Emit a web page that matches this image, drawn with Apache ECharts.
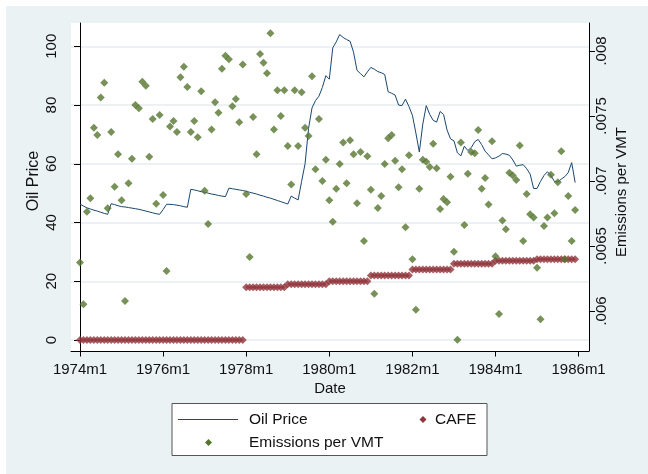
<!DOCTYPE html>
<html>
<head>
<meta charset="utf-8">
<title>Oil Price, CAFE and Emissions per VMT</title>
<script src="https://cdn.jsdelivr.net/npm/echarts@6/dist/echarts.min.js"></script>
<style>
  html, body { margin: 0; padding: 0; background: #fff; }
  #frame { position: absolute; left: 6px; top: 6px; width: 642px; height: 468px; background: #EAF2F3; }
  #chart { position: absolute; left: 0; top: 0; width: 648px; height: 474px; }
</style>
</head>
<body>
<div id="frame"></div>
<div id="chart"></div>
<script>
// Months are counted from 1974m1 (index 0) to 1985m12 (index 143).
const tickMonths = [0, 24, 48, 72, 96, 120, 144];
const tickLabels = ['1974m1', '1976m1', '1978m1', '1980m1', '1982m1', '1984m1', '1986m1'];

const leftTicks = [0, 20, 40, 60, 80, 100];
const rightTicks = [0.006, 0.0065, 0.007, 0.0075, 0.008];
const rightTickLabels = ['.006', '.0065', '.007', '.0075', '.008'];

// Real oil price, monthly
const oilPrice = [
  46.3, 45.6, 45.0, 44.6, 44.2, 43.9, 43.5, 43.1, 42.8, 46.4, 46.1, 45.7,
  45.4, 45.3, 45.1, 44.9, 44.7, 44.5, 44.2, 43.9, 43.6, 43.3, 43.0, 42.8,
  44.4, 46.2, 46.2, 46.1, 45.9, 45.7, 45.4, 45.2, 51.3, 51.1, 50.8, 50.5,
  50.3, 50.0, 49.7, 49.5, 49.2, 49.0, 48.8, 51.7, 51.5, 51.3, 51.1, 50.9,
  50.6, 50.3, 50.0, 49.7, 49.3, 49.0, 48.6, 48.3, 47.9, 47.5, 47.1, 46.7,
  46.3, 49.0, 48.3, 47.7, 54.0, 60.0, 72.0, 79.0, 81.5, 83.0, 86.0, 90.0,
  88.8, 99.5, 101.5, 104.0, 103.0, 102.3, 101.7, 98.0, 91.8, 90.7, 89.6, 91.3,
  92.8, 92.2, 91.4, 91.0, 90.4, 84.5, 84.0, 83.4, 80.0, 79.8, 82.0, 79.5,
  76.5, 70.5, 64.0, 73.5, 79.8, 76.8, 74.8, 74.2, 77.8, 76.8, 71.5, 68.5,
  67.8, 63.7, 62.7, 66.0, 64.5, 65.5, 67.5, 68.3, 66.5, 64.3, 63.0, 61.7,
  62.0, 62.6, 63.5, 63.3, 62.9, 61.3, 59.2, 59.5, 59.7, 58.3, 56.5, 51.6,
  51.6, 54.0, 56.0, 57.3, 56.0, 54.0, 53.8, 54.8, 55.6, 57.0, 60.4, 53.6
];

// CAFE standard (mpg) by calendar year, 1974-1985
const cafeYears = [1974, 1975, 1976, 1977, 1978, 1979, 1980, 1981, 1982, 1983, 1984, 1985];
const cafeStandard = [0, 0, 0, 0, 18, 19, 20, 22, 24, 26, 27, 27.5];

// Emissions per vehicle mile travelled, monthly
const emissionsPerVMT = [
  0.006372, 0.006052, 0.006764, 0.006867, 0.007410, 0.007354, 0.007641, 0.007756, 0.006790, 0.007377, 0.006956, 0.007205,
  0.006851, 0.006077, 0.006982, 0.007171, 0.007585, 0.007559, 0.007764, 0.007733, 0.007187, 0.007477, 0.006825, 0.007508,
  0.006892, 0.006308, 0.007418, 0.007461, 0.007377, 0.007798, 0.007879, 0.007723, 0.007377, 0.007461, 0.007336, 0.007690,
  0.006925, 0.006669, 0.007395, 0.007605, 0.007525, 0.007864, 0.007964, 0.007936, 0.007575, 0.007631, 0.007451, 0.007895,
  0.006900, 0.006415, 0.007492, 0.007205, 0.007977, 0.007910, 0.007828, 0.008136, 0.007395, 0.007698, 0.007500, 0.007698,
  0.007269, 0.006972, 0.007698, 0.007269, 0.007682, 0.007410, 0.007346, 0.007805, 0.007090, 0.007477, 0.007000, 0.007164,
  0.006851, 0.006687, 0.006941, 0.007131, 0.007295, 0.006982, 0.007313, 0.007205, 0.006828, 0.007223, 0.006538, 0.007190,
  0.006933, 0.006133, 0.006792, 0.006885, 0.007131, 0.007328, 0.007354, 0.007156, 0.006951, 0.007090, 0.006644, 0.007198,
  0.006398, 0.006010, 0.006941, 0.007164, 0.007148, 0.007108, 0.007287, 0.007098, 0.006785, 0.006862, 0.006836, 0.007033,
  0.006456, 0.005779, 0.007295, 0.006662, 0.007056, 0.007223, 0.007213, 0.007392, 0.006941, 0.007023, 0.006818, 0.007305,
  0.006421, 0.005977, 0.006695, 0.006628, 0.007064, 0.007041, 0.007008, 0.007272, 0.006538, 0.006900, 0.006744, 0.006718,
  0.006333, 0.005936, 0.006654, 0.006718, 0.007048, 0.006752, 0.006990, 0.007228, 0.006398, 0.006885, 0.006538, 0.006777
];

const NAVY = '#1a476f';
const MAROON = '#90353b';
const GREEN = '#55752f';
const TEXT = '#111';
const FONT = '"Liberation Sans", Arial, sans-serif';

const oilData = oilPrice.map((v, i) => [i, v]);
const cafeData = oilPrice.map((_, i) => [i, cafeStandard[Math.floor(i / 12)]]);
const emisData = emissionsPerVMT.map((v, i) => [i, v]);

function labelFor(values, labels, v) {
  for (let k = 0; k < values.length; k++) {
    if (Math.abs(values[k] - v) < 1e-9) return labels[k];
  }
  return '';
}

const chart = echarts.init(document.getElementById('chart'), null, { renderer: 'canvas' });

const diamond = (cx, cy, r) => [[cx, cy - r], [cx + r, cy], [cx, cy + r], [cx - r, cy]];

chart.setOption({
  animation: false,
  backgroundColor: 'transparent',
  textStyle: { fontFamily: FONT },
  grid: {
    left: 71, right: 59, top: 23, bottom: 123,
    show: true, backgroundColor: '#fff', borderWidth: 0
  },
  xAxis: {
    type: 'value',
    min: -2.6, max: 147,
    name: 'Date', nameLocation: 'middle', nameGap: 30.5, nameMoveOverlap: false,
    nameTextStyle: { fontSize: 15, color: TEXT, fontFamily: FONT },
    axisLine: { show: true, onZero: false, lineStyle: { color: '#000', width: 1 } },
    axisTick: { show: true, customValues: tickMonths, length: 5.5, lineStyle: { color: '#000' } },
    axisLabel: {
      customValues: tickMonths, margin: 11, fontSize: 15, color: TEXT, fontFamily: FONT,
      formatter: v => labelFor(tickMonths, tickLabels, v)
    },
    splitLine: { show: false }
  },
  yAxis: [
    {
      type: 'value', position: 'left',
      min: -3.745, max: 107.93,
      name: 'Oil Price', nameLocation: 'middle', nameGap: 29.5, nameRotate: 90, nameMoveOverlap: false,
      nameTextStyle: { fontSize: 16, color: TEXT, fontFamily: FONT, padding: [0, 0, 0, 12] },
      axisLine: { show: true, lineStyle: { color: '#000', width: 1 } },
      axisTick: { show: true, customValues: leftTicks, length: 6, lineStyle: { color: '#000' } },
      axisLabel: {
        customValues: leftTicks, rotate: 90, margin: 12, fontSize: 15, color: TEXT, fontFamily: FONT
      },
      splitLine: { show: true, lineStyle: { color: '#E6EEF0', width: 1.5 } }
    },
    {
      type: 'value', position: 'right',
      min: 0.005692, max: 0.008215,
      name: 'Emissions per VMT', nameLocation: 'middle', nameGap: 25.5, nameRotate: 90, nameMoveOverlap: false,
      nameTextStyle: { fontSize: 15, color: TEXT, fontFamily: FONT, padding: [0, 10, 0, 0] },
      axisLine: { show: true, lineStyle: { color: '#000', width: 1 } },
      axisTick: { show: true, customValues: rightTicks, length: 6, lineStyle: { color: '#000' } },
      axisLabel: {
        customValues: rightTicks, rotate: 90, margin: 5.5, fontSize: 15, color: TEXT, fontFamily: FONT,
        formatter: v => labelFor(rightTicks, rightTickLabels, v)
      },
      splitLine: { show: false }
    }
  ],
  series: [
    {
      name: 'Oil Price', type: 'line', yAxisIndex: 0, data: oilData,
      symbol: 'none', showSymbol: false,
      lineStyle: { color: NAVY, width: 1 }, z: 2
    },
    {
      name: 'CAFE', type: 'scatter', yAxisIndex: 0, data: cafeData,
      symbol: 'diamond', symbolSize: 8,
      itemStyle: { color: MAROON }, z: 3
    },
    {
      name: 'Emissions per VMT', type: 'scatter', yAxisIndex: 1, data: emisData,
      symbol: 'diamond', symbolSize: 8,
      itemStyle: { color: GREEN }, z: 4
    }
  ],
  graphic: [
    {
      type: 'group',
      children: [
        { type: 'rect', shape: { x: 172, y: 403.5, width: 315, height: 52 },
          style: { fill: '#fff', stroke: '#555', lineWidth: 1 } },
        { type: 'line', shape: { x1: 178, y1: 419.5, x2: 238, y2: 419.5 },
          style: { stroke: NAVY, lineWidth: 1 } },
        { type: 'text', x: 249, y: 419.5,
          style: { text: 'Oil Price', fill: TEXT, font: '15.5px ' + FONT, verticalAlign: 'middle' } },
        { type: 'polygon', shape: { points: diamond(423, 419.5, 3.5) }, style: { fill: MAROON } },
        { type: 'text', x: 435, y: 419.5,
          style: { text: 'CAFE', fill: TEXT, font: '15.5px ' + FONT, verticalAlign: 'middle' } },
        { type: 'polygon', shape: { points: diamond(208.5, 442.5, 3.5) }, style: { fill: GREEN } },
        { type: 'text', x: 249, y: 442.5,
          style: { text: 'Emissions per VMT', fill: TEXT, font: '15.5px ' + FONT, verticalAlign: 'middle' } }
      ]
    }
  ]
});
</script>
</body>
</html>
